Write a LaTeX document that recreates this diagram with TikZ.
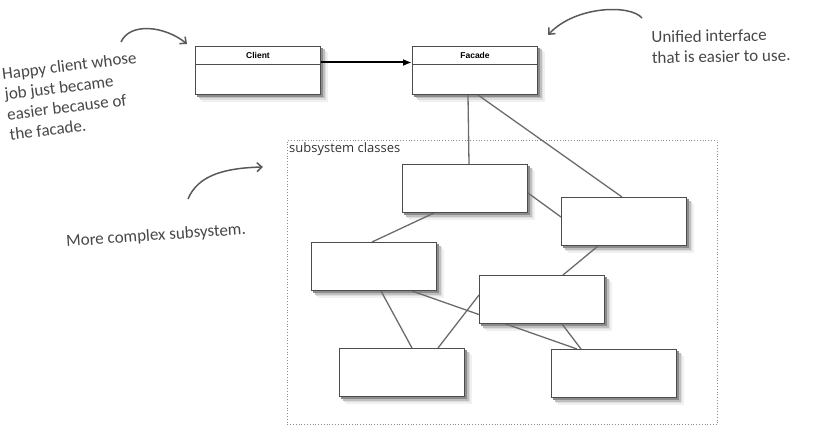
\documentclass[tikz,border=0pt]{standalone}
\usepackage{fontspec}
\setmainfont{Liberation Sans}
\newfontfamily\hand{Carlito}
\newfontfamily\myriad{Open Sans}
\usetikzlibrary{arrows.meta,calc}
\pgfdeclarelayer{shadowlayer}
\pgfdeclarelayer{linklayer}
\pgfsetlayers{shadowlayer,linklayer,main}
\newcommand\mkshadow[1]{%
  \foreach \o/\c in {6.5/6,5/13,3.5/25,2/45} {%
    \fill[black!\c] ($(#1.north west)+(\o,\o)$) rectangle ($(#1.south east)+(\o,\o)$);}}
\begin{document}
\begin{tikzpicture}[x=1pt,y=-1pt,
  cls/.style={draw=black!70, line width=1pt, fill=white, minimum width=125pt, minimum height=48pt, anchor=north west, inner sep=0pt},
  link/.style={draw=black!58, line width=1.3pt},
  note/.style={text=black!72, font=\hand\fontsize{17}{20.5}\selectfont, align=left, inner sep=0pt},
  hint/.style={draw=black!65, line width=1.5pt, -{Straight Barb[length=5pt,width=9pt]}},
  hdr/.style={draw=black!70, line width=0.8pt},
  lbl/.style={font=\bfseries\fontsize{8.5}{9}\selectfont, inner sep=0pt}
]
\useasboundingbox (0,0) rectangle (817,444);

% frame
\node[draw=black!45, dotted, line width=0.8pt, minimum width=430pt, minimum height=284pt, anchor=north west, inner sep=0pt] (frame) at (287,140) {};
\node[anchor=north west, font=\myriad\fontsize{13}{14}\selectfont, text=black!80, inner sep=0pt] (framelbl) at (289,142) {subsystem classes};

% top classes
\node[cls] (client) at (195,46) {};
\node[cls] (facade) at (412,46) {};
\draw[hdr] ($(client.north west)+(0,18)$) -- ($(client.north east)+(0,18)$);
\draw[hdr] ($(facade.north west)+(0,18)$) -- ($(facade.north east)+(0,18)$);
\node[lbl] (clientlbl) at ($(client.north)+(0,9.5)$) {Client};
\node[lbl] (facadelbl) at ($(facade.north)+(0,9.5)$) {Facade};
\draw[line width=2pt, -{Latex[length=9pt,width=7pt]}] ($(client.north east)+(0,16.5)$) -- ($(facade.north west)+(0,16.5)$);

% subsystem classes
\node[cls] (A) at (402,164) {};
\node[cls] (B) at (561,197) {};
\node[cls] (C) at (311,242) {};
\node[cls] (D) at (479,275) {};
\node[cls] (E) at (339,348) {};
\node[cls] (F) at (551,349) {};

\begin{pgfonlayer}{shadowlayer}
\mkshadow{client}\mkshadow{facade}
\mkshadow{A}\mkshadow{B}\mkshadow{C}\mkshadow{D}\mkshadow{E}\mkshadow{F}
\end{pgfonlayer}

\begin{pgfonlayer}{linklayer}
\draw[link] ($(facade.south west)+(56,0)$) -- ($(A.north west)+(67,0)$);
\draw[link] ($(facade.south west)+(66,0)$) -- ($(B.north west)+(61,0)$);
\draw[link] ($(A.north east)+(0,29)$) -- ($(B.north west)+(0,20)$);
\draw[link] ($(A.south west)+(32,0)$) -- ($(C.north west)+(61,0)$);
\draw[link] ($(B.south west)+(37,0)$) -- ($(D.north west)+(84,0)$);
\draw[link] ($(C.south west)+(70,0)$) -- ($(E.north west)+(73,0)$);
\draw[link] ($(C.south west)+(101,0)$) -- ($(F.north west)+(26,0)$);
\draw[link] ($(D.north west)+(0,20)$) -- ($(E.north west)+(99,0)$);
\draw[link] ($(D.south west)+(83,0)$) -- ($(F.north west)+(30,0)$);
\end{pgfonlayer}

% annotations
\node[note, rotate=7] (n1) at (73,96) {Happy client whose\\job just became\\easier because of\\the facade.};
\node[note, rotate=1] (n2) at (721,46) {Unified interface\\that is easier to use.};
\node[note, rotate=4] (n3) at (156,236) {More complex subsystem.};

\coordinate (h1s) at (121,42);
\coordinate (h1e) at (187,44);
\draw[hint] (h1s) .. controls (130,22) and (165,26) .. (h1e);
\coordinate (h2s) at (642,18);
\coordinate (h2e) at (548,35);
\draw[hint] (h2s) .. controls (630,4) and (575,6) .. (h2e);
\coordinate (h3s) at (188,199);
\coordinate (h3e) at (263,167);
\draw[hint] (h3s) .. controls (198,175) and (225,168) .. (h3e);
\end{tikzpicture}
\end{document}
